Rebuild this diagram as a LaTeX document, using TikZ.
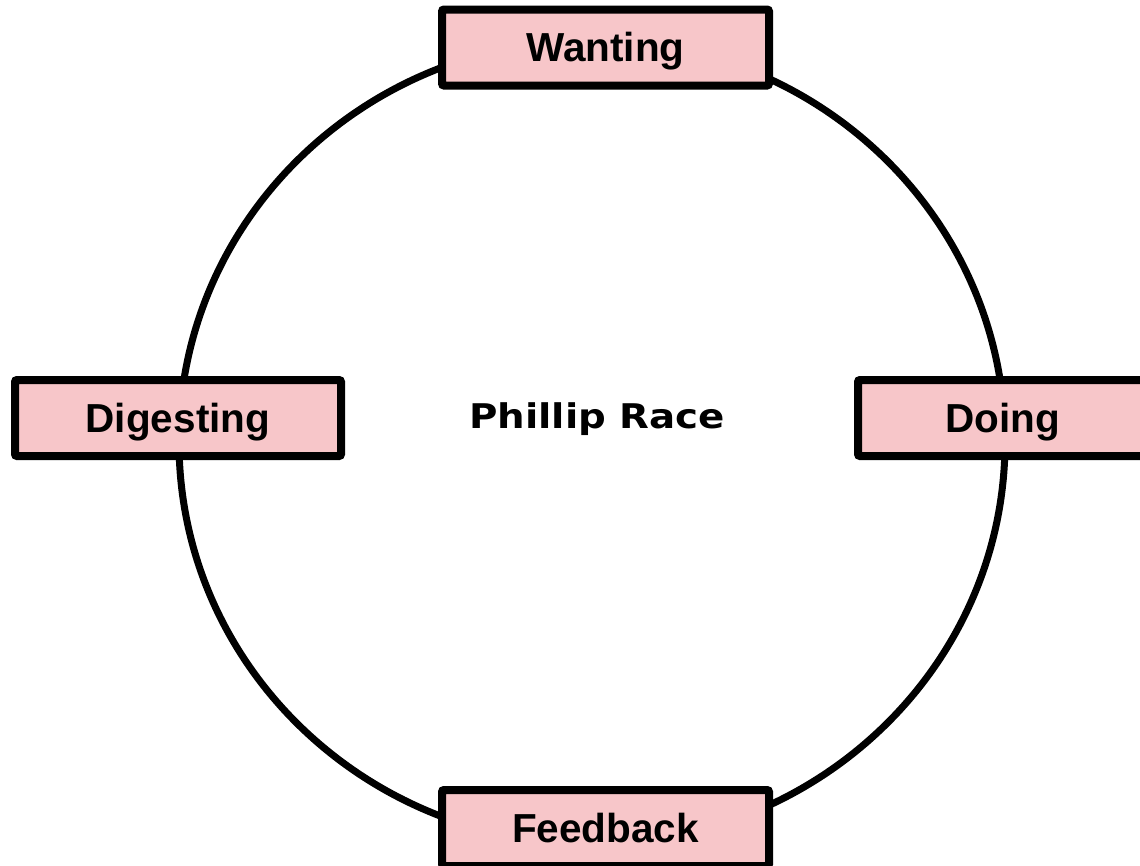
\documentclass[tikz,border=0pt]{standalone}
\usepackage{fontspec}
\setmainfont{Liberation Sans}
\newfontfamily\racefont{DejaVu Sans}
\usetikzlibrary{shapes.geometric}
\definecolor{stagepink}{HTML}{F7C6C9}
\begin{document}
\begin{tikzpicture}[x=1pt, y=-1pt,
		ring/.style = {draw, ellipse, line width=7pt, inner sep=0pt},
		main/.style = {draw, fill=stagepink, line width=8pt, rounded corners=2pt, inner sep=0pt,
			minimum height=76pt, text height=30pt, text depth=2pt,
			font=\bfseries\fontsize{40.5}{48}\selectfont}]
		\useasboundingbox (0,0) rectangle (1140,865);
		
		\node[ring, minimum width=826pt, minimum height=804pt] (0) at (592,442) {};
		
		\node[main, minimum width=327pt] (1) at (605.5,47.5) {Wanting};
		\node[main, minimum width=290pt] (2) at (1003,418) {Doing};
		\node[main, minimum width=327pt] (3) at (605.5,828) {Feedback};
		\node[main, minimum width=326pt] (4) at (178,418) {Digesting};
		
		\node[anchor=base, font=\racefont\bfseries\fontsize{34}{40}\selectfont] (5) at (597,428) {\scalebox{1.14}[1]{Phillip Race}};
	\end{tikzpicture}
\end{document}
